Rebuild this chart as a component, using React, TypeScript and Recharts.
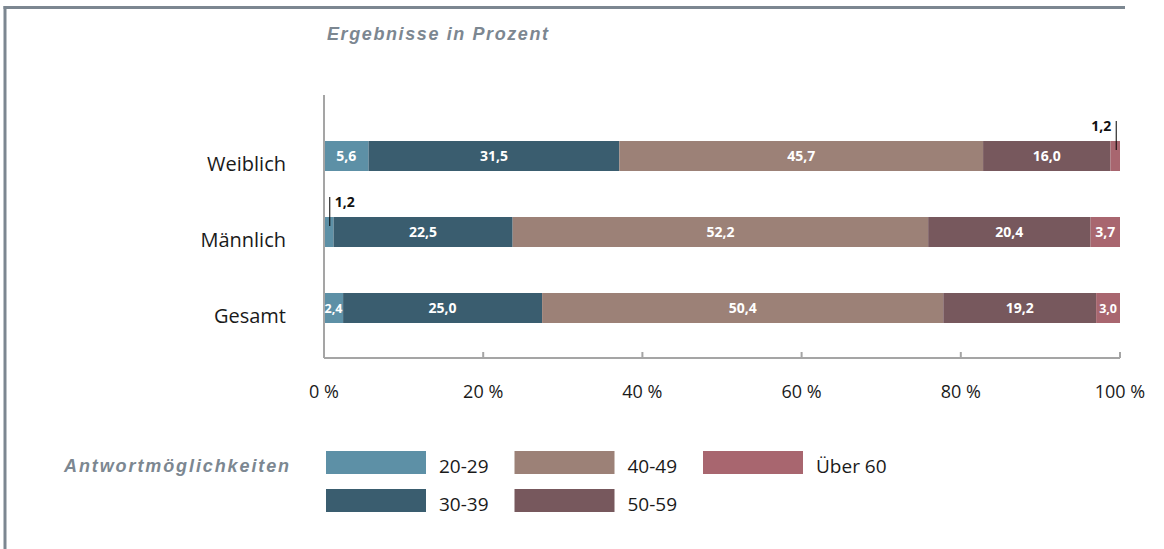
import React from "react";
import { Bar, BarChart, LabelList, XAxis, YAxis } from "recharts";

document.body.style.margin = "0";

const categories = ["Weiblich", "Männlich", "Gesamt"];
const seriesNames = ["20-29", "30-39", "40-49", "50-59", "Über 60"];
const seriesColors = ["#5d90a6", "#3a5d6f", "#9c8177", "#77585d", "#a8666f"];
const values2029 = [5.6, 1.2, 2.4];
const values3039 = [31.5, 22.5, 25.0];
const values4049 = [45.7, 52.2, 50.4];
const values5059 = [16.0, 20.4, 19.2];
const valuesUeber60 = [1.2, 3.7, 3.0];
const xTicks = [0, 20, 40, 60, 80, 100];

const seriesValues = [values2029, values3039, values4049, values5059, valuesUeber60];

const data = categories.map((cat, i) => {
  const row: Record<string, string | number> = { cat };
  seriesValues.forEach((vals, s) => {
    row["s" + s] = vals[i];
  });
  return row;
});

const FONT = "'Open Sans', sans-serif";
const GRAY = "#7c8791";
const AXIS = "#a5a5a5";

const fmt = (v: number) => v.toFixed(1).replace(".", ",");

function SegmentLabel(props: any) {
  const { x, y, width, height, value } = props;
  const v = Number(value);
  if (v < 2) {
    // kleiner Wert: Beschriftung außerhalb mit Linie
    const cx = x + width / 2 + 1;
    const right = cx < 600;
    return (
      <g>
        <line x1={cx} x2={cx} y1={y - 20} y2={y + 9} stroke="#000" strokeWidth={1} />
        <text
          x={right ? cx + 5 : cx - 5}
          y={y - 10}
          textAnchor={right ? "start" : "end"}
          fontFamily={FONT}
          fontWeight="bold"
          fontSize={14}
          fill="#111"
        >
          {fmt(v)}
        </text>
      </g>
    );
  }
  return (
    <text
      x={x + width / 2}
      y={y + height / 2 + 5}
      textAnchor="middle"
      fontFamily={FONT}
      fontWeight="bold"
      fontSize={width < 24 ? 12.5 : 14}
      fill="#fff"
    >
      {fmt(v)}
    </text>
  );
}

function XTick(props: any) {
  const { x, y, payload } = props;
  return (
    <g>
      <line x1={x} x2={x} y1={y} y2={y - 6} stroke={AXIS} strokeWidth={2} />
      <text x={x} y={y + 40} textAnchor="middle" fontFamily={FONT} fontSize={18} fill="#1a1a1a">
        {payload.value} %
      </text>
    </g>
  );
}

function YTick(props: any) {
  const { x, y, payload } = props;
  return (
    <text x={x} y={y + 15} textAnchor="end" fontFamily={FONT} fontSize={20} fill="#1a1a1a">
      {payload.value}
    </text>
  );
}

function Overlay() {
  return (
    <svg
      width={1164}
      height={549}
      style={{ position: "absolute", left: 0, top: 0, pointerEvents: "none" }}
    >
      <line x1={3.5} x2={1125} y1={7.5} y2={7.5} stroke={GRAY} strokeWidth={3} />
      <line x1={5} x2={5} y1={6} y2={549} stroke={GRAY} strokeWidth={3} />
      <text
        x={327}
        y={40}
        fontFamily="'Liberation Sans', Arial, sans-serif"
        fontStyle="italic"
        fontWeight="bold"
        fontSize={18}
        letterSpacing={1.6}
        fill={GRAY}
      >
        Ergebnisse in Prozent
      </text>
      <text
        x={64}
        y={472}
        fontFamily="'Liberation Sans', Arial, sans-serif"
        fontStyle="italic"
        fontWeight="bold"
        fontSize={18}
        letterSpacing={1.9}
        fill={GRAY}
      >
        Antwortmöglichkeiten
      </text>
      {seriesNames.map((name, i) => {
        const col = Math.floor(i / 2);
        const row = i % 2;
        const sx = 326 + col * 188.5;
        const sy = 451 + row * 38;
        return (
          <g key={name}>
            <rect x={sx} y={sy} width={100} height={23} fill={seriesColors[i]} />
            <text x={sx + 113} y={sy + 22} fontFamily={FONT} fontSize={19} fill="#1a1a1a">
              {name}
            </text>
          </g>
        );
      })}
    </svg>
  );
}

export default function App() {
  return (
    <div style={{ position: "relative", width: 1164, height: 549, background: "#fff" }}>
      <BarChart
        width={1164}
        height={549}
        data={data}
        layout="vertical"
        margin={{ top: 95, right: 44, bottom: 141, left: 0 }}
        barSize={30}
      >
        <XAxis
          type="number"
          domain={[0, 100]}
          ticks={xTicks}
          height={50}
          axisLine={{ stroke: AXIS, strokeWidth: 2 }}
          tickLine={false}
          tickSize={0}
          tickMargin={0}
          tick={<XTick />}
          interval={0}
        />
        <YAxis
          type="category"
          dataKey="cat"
          width={324}
          padding={{ top: 23, bottom: 12 }}
          axisLine={{ stroke: AXIS, strokeWidth: 2 }}
          tickLine={false}
          tickSize={0}
          tickMargin={38}
          tick={<YTick />}
          interval={0}
        />
        {seriesNames.map((name, s) => (
          <Bar
            key={name}
            dataKey={"s" + s}
            name={name}
            stackId="a"
            fill={seriesColors[s]}
            isAnimationActive={false}
          >
            <LabelList dataKey={"s" + s} content={<SegmentLabel />} />
          </Bar>
        ))}
      </BarChart>
      <Overlay />
    </div>
  );
}
